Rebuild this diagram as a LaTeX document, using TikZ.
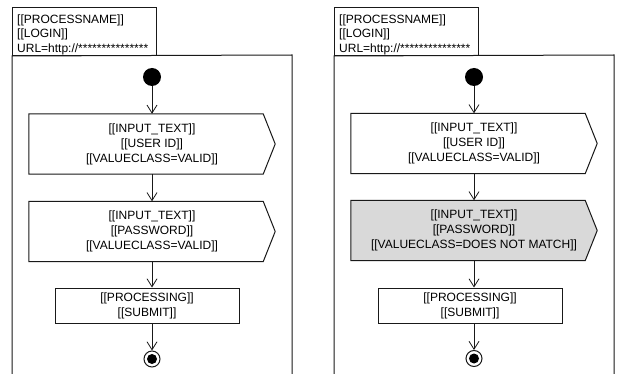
\documentclass[tikz,border=0pt]{standalone}
\usepackage{fontspec}
\setmainfont{Liberation Sans}
\usetikzlibrary{arrows.meta}
\pgfdeclarelayer{bg}
\pgfsetlayers{bg,main}
\newcommand\sigpath[2]{\begin{pgfonlayer}{bg}\draw[ln, fill=#2] (#1.north west) -- ([xshift=-12pt]#1.north east) -- (#1.east) -- ([xshift=-12pt]#1.south east) -- (#1.south west) -- cycle;\end{pgfonlayer}}
\begin{document}
\begin{tikzpicture}[x=1pt,y=-1pt,
  ln/.style={draw=black!90, line width=1pt},
  flow/.style={draw=black!90, line width=0.8pt, -{Straight Barb[length=8pt,width=10pt]}},
  startnode/.style={circle, fill=black, minimum size=18pt, inner sep=0pt},
  endnode/.style={circle, ln, minimum size=16pt, inner sep=0pt},
  txt/.style={font=\fontsize{12}{15}\selectfont, align=center},
  actbox/.style={txt, minimum width=246pt, minimum height=60pt, inner sep=0pt},
  procbox/.style={txt, ln, minimum width=184pt, minimum height=35pt, inner sep=0pt},
  hdrbox/.style={ln, minimum width=144pt, minimum height=48pt, inner sep=0pt, anchor=north west},
  hdrtext/.style={font=\fontsize{12}{14.5}\selectfont, align=left, anchor=north west, inner sep=0pt}]
\useasboundingbox (0,0) rectangle (618,374);
% ---------- left panel ----------
\node[hdrbox] (h1) at (12,7) {};
\node[hdrtext] (h1t) at (17,14.5) {[[PROCESSNAME]]\\{}[[LOGIN]]\\{}URL=http://***************};
\draw[ln] (12,376) -- (h1.south west) -- (292,55) -- (292,376);
\node[startnode] (s1) at (152,77) {};
\node[actbox] (a1) at (152,144) {[[INPUT\_TEXT]]\\{}[[USER ID]]\\{}[[VALUECLASS=VALID]]};
\sigpath{a1}{white}
\node[actbox] (a2) at (152,231.5) {[[INPUT\_TEXT]]\\{}[[PASSWORD]]\\{}[[VALUECLASS=VALID]]};
\sigpath{a2}{white}
\node[procbox] (p1) at (147,305.5) {[[PROCESSING]]\\{}[[SUBMIT]]};
\node[endnode] (e1) at (152,359) {};
\fill (e1.center) circle (5pt);
\draw[flow] (s1) -- (a1);
\draw[flow] (a1) -- (a2);
\draw[flow] (a2.south) -- (a2.south |- p1.north);
\draw[flow] (p1.south -| e1) -- (e1);
% ---------- right panel ----------
\node[hdrbox] (h2) at (334,7) {};
\node[hdrtext] (h2t) at (339,14.5) {[[PROCESSNAME]]\\{}[[LOGIN]]\\{}URL=http://***************};
\draw[ln] (334,376) -- (h2.south west) -- (614,55) -- (614,376);
\node[startnode] (s2) at (474,77) {};
\node[actbox] (b1) at (474,143.5) {[[INPUT\_TEXT]]\\{}[[USER ID]]\\{}[[VALUECLASS=VALID]]};
\sigpath{b1}{white}
\node[actbox] (b2) at (474,230.5) {[[INPUT\_TEXT]]\\{}[[PASSWORD]]\\{}[[VALUECLASS=DOES NOT MATCH]]};
\sigpath{b2}{black!15}
\node[procbox] (p2) at (470,305.5) {[[PROCESSING]]\\{}[[SUBMIT]]};
\node[endnode] (e2) at (474,358.5) {};
\fill (e2.center) circle (5pt);
\draw[flow] (s2) -- (b1);
\draw[flow] (b1) -- (b2);
\draw[flow] (b2.south) -- (b2.south |- p2.north);
\draw[flow] (p2.south -| e2) -- (e2);
\end{tikzpicture}
\end{document}
